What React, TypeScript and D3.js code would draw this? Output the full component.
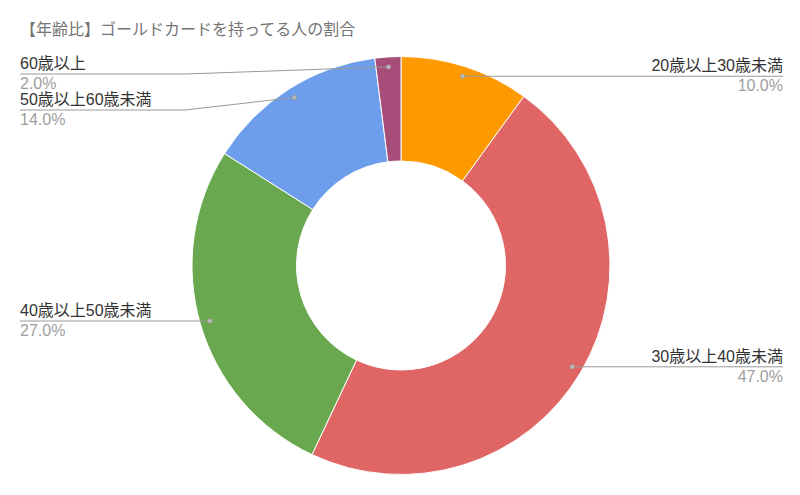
import { useEffect, useRef } from "react"
import * as d3 from "d3"

const title = "【年齢比】ゴールドカードを持ってる人の割合"
const categories = ["20歳以上30歳未満", "30歳以上40歳未満", "40歳以上50歳未満", "50歳以上60歳未満", "60歳以上"]
const shares = [10.0, 47.0, 27.0, 14.0, 2.0]
const colors = ["#ff9900", "#e06666", "#6aa84f", "#6d9eeb", "#a64d79"]

const W = 800, H = 495
const FONT = "'Liberation Sans', Arial, 'Noto Sans CJK JP', sans-serif"

export default function App() {
  const ref = useRef<SVGSVGElement>(null)
  useEffect(() => {
    if (!ref.current) return
    const svg = d3.select(ref.current)
    svg.selectAll("*").remove()

    svg.append("rect").attr("width", W).attr("height", H).attr("fill", "#fff")
    svg.append("text").attr("x", 20).attr("y", 35).style("font-family", FONT).style("font-size", "16px")
      .attr("fill", "#757575").text(title)

    const cx = 401, cy = 265.5, R = 209, r0 = 104.5
    const data = categories.map((c, i) => ({ c, v: shares[i], col: colors[i] }))
    const pie = d3.pie<typeof data[0]>().value(d => d.v).sort(null)
    const arcs = pie(data)
    const arc = d3.arc<d3.PieArcDatum<typeof data[0]>>().innerRadius(r0).outerRadius(R)
    const dotArc = d3.arc<d3.PieArcDatum<typeof data[0]>>().innerRadius(199).outerRadius(199)

    const g = svg.append("g").attr("transform", `translate(${cx},${cy})`)
    g.selectAll("path").data(arcs).join("path")
      .attr("d", arc).attr("fill", d => d.data.col).attr("stroke", "#fff").attr("stroke-width", 1)

    // label layout: left / right columns, pushed apart vertically
    const pts = arcs.map(a => {
      const [x, y] = dotArc.centroid(a)
      return { a, x: x + cx, y: y + cy, right: x > 0, ly: 0 }
    })
    const gap = 36, minY = 74
    for (const side of [true, false]) {
      const list = pts.filter(p => p.right === side).sort((p, q) => p.y - q.y)
      let prev = -Infinity
      for (const p of list) {
        p.ly = Math.max(p.y, prev + gap, minY)
        prev = p.ly
      }
    }

    const lab = svg.append("g").style("font-family", FONT).style("font-size", "16px")
    for (const p of pts) {
      const xEnd = p.right ? 783 : 20
      const elbow = p.right ? 615 : 185
      const path = d3.path()
      path.moveTo(xEnd, p.ly)
      if (Math.abs(p.ly - p.y) > 1) { path.lineTo(elbow, p.ly); path.lineTo(p.x, p.y) }
      else path.lineTo(p.x, p.y)
      lab.append("path").attr("d", path.toString()).attr("fill", "none").attr("stroke", "#999").attr("stroke-width", 1)
      lab.append("circle").attr("cx", p.x).attr("cy", p.y).attr("r", 2.2).attr("fill", "#bbb").attr("stroke", "#999").attr("stroke-width", 0.6)
      const anchor = p.right ? "end" : "start"
      lab.append("text").attr("x", xEnd).attr("y", p.ly - 5).attr("text-anchor", anchor).attr("fill", "#333").text(p.a.data.c)
      lab.append("text").attr("x", xEnd).attr("y", p.ly + 15).attr("text-anchor", anchor).attr("fill", "#9e9e9e")
        .text(`${p.a.data.v.toFixed(1)}%`)
    }
  }, [])
  return <svg ref={ref} width={W} height={H} style={{ position: "fixed", left: 0, top: 0, display: "block" }} />
}
